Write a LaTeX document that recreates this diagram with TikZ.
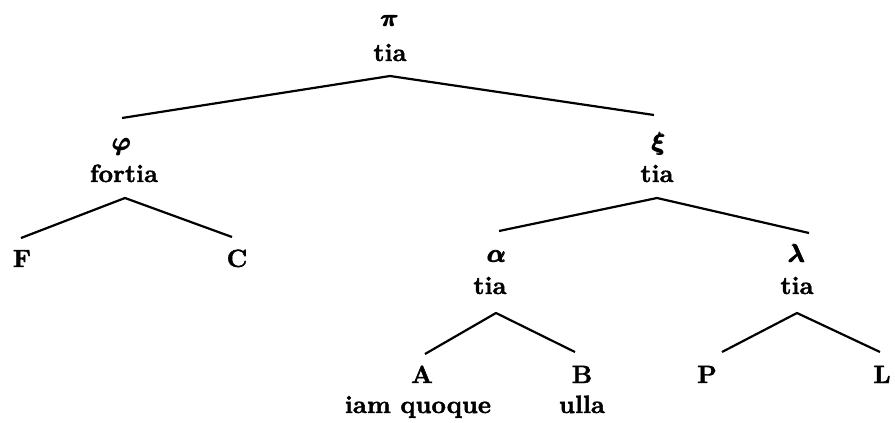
\documentclass[tikz,border=0pt]{standalone}
\usepackage[no-math]{fontspec}
\usepackage{amsmath}
\setmainfont{lmroman10-regular.otf}[BoldFont=lmroman10-bold.otf, BoldFeatures={FakeBold=1.6}]
\newcommand{\gk}[1]{\mbox{\boldmath$\pmb{#1}$}}
\begin{document}
\begin{tikzpicture}[x=1pt,y=-1pt,
  lab/.style={anchor=base,inner sep=0pt,font=\fontsize{25}{30}\selectfont\bfseries},
  edge/.style={line width=2.2pt}]
\useasboundingbox (0,0) rectangle (895,423);
% labels
\node[lab] (pi) at (390,27) {\gk{\pi}};
\node[lab] (pit) at (390,61) {tia};
\node[lab] (phi) at (122,150) {\gk{\varphi}};
\node[lab] (phit) at (124,182) {fortia};
\node[lab] (xi) at (659,150) {\gk{\xi}};
\node[lab] (xit) at (657,182) {tia};
\node[lab] (F) at (22,267) {F};
\node[lab] (C) at (237,267) {C};
\node[lab] (al) at (497,262) {\gk{\alpha}};
\node[lab] (alt) at (490,294) {tia};
\node[lab] (la) at (797,262) {\gk{\lambda}};
\node[lab] (lat) at (797,294) {tia};
\node[lab] (A) at (422,383) {A};
\node[lab] (At) at (418,413) {iam quoque};
\node[lab] (B) at (582,383) {B};
\node[lab] (Bt) at (582,413) {ulla};
\node[lab] (P) at (707,383) {P};
\node[lab] (L) at (882,383) {L};
% edges
\draw[edge] ([shift={(0,-32)}]phi.base) -- ([shift={(0,15)}]pit.base) -- ([shift={(-5,-35)}]xi.base);
\draw[edge] ([shift={(-1,-29)}]F.base) -- ([shift={(1,16)}]phit.base) -- ([shift={(-5,-30)}]C.base);
\draw[edge] ([shift={(2,-31)}]al.base) -- ([shift={(0,16)}]xit.base) -- ([shift={(12,-29)}]la.base);
\draw[edge] ([shift={(3,-29)}]A.base) -- ([shift={(6,19)}]alt.base) -- ([shift={(-7,-31)}]B.base);
\draw[edge] ([shift={(15,-31)}]P.base) -- ([shift={(0,19)}]lat.base) -- ([shift={(-2,-31)}]L.base);
\end{tikzpicture}
\end{document}
